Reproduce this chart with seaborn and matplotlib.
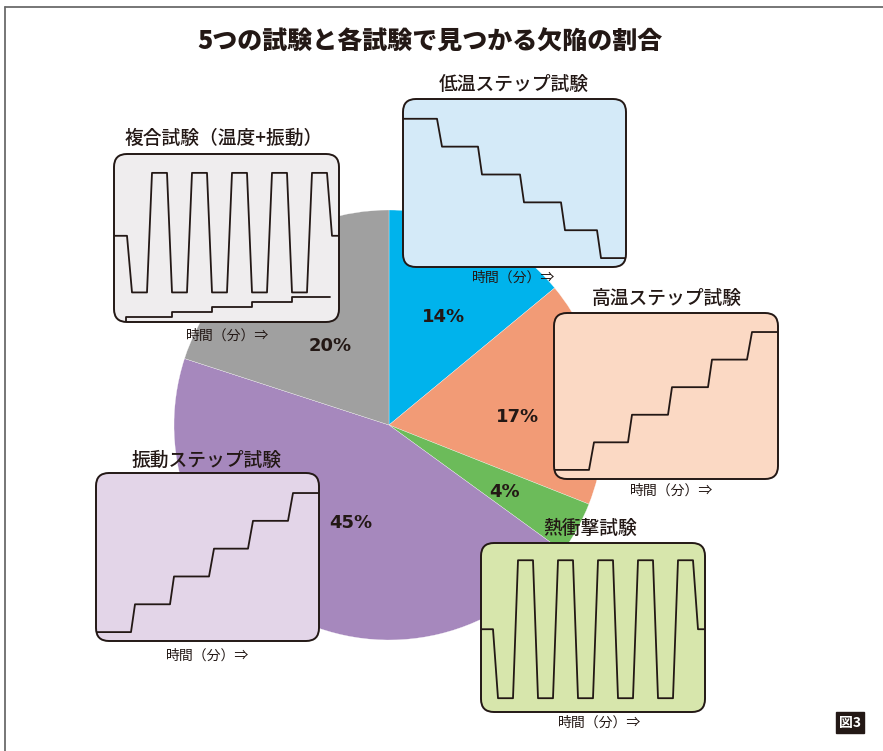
import matplotlib
matplotlib.use("Agg")
import matplotlib.pyplot as plt
from matplotlib.patches import FancyBboxPatch
from matplotlib.lines import Line2D
import seaborn as sns
import pandas as pd

sns.set_theme(style="white")
plt.rcParams['font.family'] = ['Noto Sans CJK JP', 'DejaVu Sans']

W, H = 883, 751
INK = "#231815"

# ---------------- data ----------------
title = "5つの試験と各試験で見つかる欠陥の割合"
tests = ["低温ステップ試験", "高温ステップ試験", "熱衝撃試験", "振動ステップ試験", "複合試験（温度+振動）"]
shares = [14, 17, 4, 45, 20]
wedge_colors = ["#00B3EC", "#F29B76", "#6CBB5A", "#A688BD", "#A0A0A0"]
box_colors = ["#D4EAF8", "#FBD9C4", "#D7E6AC", "#E3D5E8", "#EFEDEE"]
time_label = "時間（分）⇒"

low_t = [0, 34, 39, 75, 79, 117, 121, 158, 162, 194, 198, 223]
low_v = [5, 5, 4, 4, 3, 3, 2, 2, 1, 1, 0, 0]

high_t = [0, 35, 40, 74, 78, 114, 118, 154, 158, 193, 198, 224]
high_v = [0, 0, 1, 1, 2, 2, 3, 3, 4, 4, 5, 5]

vib_t = [0, 35, 39, 74, 78, 113, 118, 152, 157, 192, 197, 223]
vib_v = [0, 0, 1, 1, 2, 2, 3, 3, 4, 4, 5, 5]

shock_t = [0, 12, 17, 32, 37, 52, 57, 72, 77, 92, 97, 112, 117, 132,
           137, 152, 157, 172, 177, 192, 197, 212, 217, 224]
shock_v = [0, 0, -1, -1, 1, 1, -1, -1, 1, 1, -1, -1, 1, 1,
           -1, -1, 1, 1, -1, -1, 1, 1, 0, 0]

comb_t = [0, 13, 18, 33, 38, 53, 58, 73, 78, 93, 98, 113, 118, 133,
          138, 153, 158, 173, 178, 193, 198, 213, 218, 225]
comb_temp = [0, 0, -0.9, -0.9, 1, 1, -0.9, -0.9, 1, 1, -0.9, -0.9, 1, 1,
             -0.9, -0.9, 1, 1, -0.9, -0.9, 1, 1, 0, 0]
comb_vib_t = [12, 12, 58, 58, 98, 98, 138, 138, 178, 178, 216]
comb_vib_v = [-1.37, -1.29, -1.29, -1.21, -1.21, -1.13, -1.13, -1.05, -1.05, -0.98, -0.98]

# ---------------- layout ----------------
fig = plt.figure(figsize=(W / 100, H / 100), dpi=100)
fig.patch.set_facecolor("white")
ax = fig.add_axes([0, 0, 1, 1])

wedges, _, autotexts = ax.pie(
    shares, colors=wedge_colors, startangle=90, counterclock=False,
    center=(389, H - 425), radius=215, autopct="%d%%",
    wedgeprops=dict(edgecolor="white", linewidth=0.2),
    textprops=dict(fontsize=13, fontweight="bold", color=INK, family="DejaVu Sans"))
pct_pos = [(443, 317), (518, 417), (505, 492), (351, 523), (330, 346)]
for t, (px, py) in zip(autotexts, pct_pos):
    t.set_position((px, H - py))
    t.set_zorder(7)

ax.set_xlim(0, W)
ax.set_ylim(0, H)
ax.set_aspect("auto")
ax.axis("off")

ax.text(430, H - 42, title, ha="center", va="center", fontsize=18,
        fontweight="heavy", color=INK)

# frame lines
fig.add_artist(Line2D([4.5 / W, 4.5 / W], [0, 1 - 6.5 / H], color="#6b6b6b", lw=1.3))
fig.add_artist(Line2D([4.5 / W, 1], [1 - 6.5 / H, 1 - 6.5 / H], color="#6b6b6b", lw=1.3))

# figure number tag
ax.text(850, H - 722.5, "図3", ha="center", va="center", fontsize=10,
        fontweight="bold", color="white",
        bbox=dict(boxstyle="square,pad=0.25", fc=INK, ec=INK))

boxes = {
    "低温ステップ試験": dict(rect=(403, 99, 626, 267), tpos=(514, 84), lpos=(514, 278),
                      ylim=(-0.32, 5.71), color=box_colors[0],
                      series=[(low_t, low_v)], xmax=223),
    "高温ステップ試験": dict(rect=(554, 313, 778, 479), tpos=(667, 298), lpos=(672, 491),
                      ylim=(-0.33, 5.69), color=box_colors[1],
                      series=[(high_t, high_v)], xmax=224),
    "熱衝撃試験": dict(rect=(481, 543, 705, 712), tpos=(590, 528), lpos=(600, 723),
                  ylim=(-1.2, 1.25), color=box_colors[2],
                  series=[(shock_t, shock_v)], xmax=224),
    "振動ステップ試験": dict(rect=(96, 473, 319, 641), tpos=(207, 460), lpos=(208, 656),
                      ylim=(-0.32, 5.72), color=box_colors[3],
                      series=[(vib_t, vib_v)], xmax=223),
    "複合試験（温度+振動）": dict(rect=(114, 154, 339, 322), tpos=(224, 138), lpos=(228, 336),
                         ylim=(-1.37, 1.30), color=box_colors[4],
                         series=[(comb_t, comb_temp), (comb_vib_t, comb_vib_v)], xmax=225),
}

for name in tests:
    b = boxes[name]
    x0, y0, x1, y1 = b["rect"]
    patch = FancyBboxPatch((x0, H - y1), x1 - x0, y1 - y0,
                           boxstyle="round,pad=0,rounding_size=13",
                           fc=b["color"], ec=INK, lw=1.4, zorder=5)
    ax.add_patch(patch)
    ax.text(b["tpos"][0], H - b["tpos"][1], name, ha="center", va="center",
            fontsize=13.5, fontweight="medium", color=INK, zorder=7)
    ax.text(b["lpos"][0], H - b["lpos"][1], time_label, ha="center", va="center",
            fontsize=10, color=INK, zorder=7)

    iax = fig.add_axes([x0 / W, 1 - y1 / H, (x1 - x0) / W, (y1 - y0) / H])
    iax.patch.set_alpha(0)
    for tt, vv in b["series"]:
        df = pd.DataFrame({"time": tt, "value": vv})
        sns.lineplot(data=df, x="time", y="value", sort=False, estimator=None,
                     color=INK, lw=1.3, ax=iax)
    iax.set_xlim(0, b["xmax"])
    iax.set_ylim(*b["ylim"])
    iax.axis("off")

fig.savefig("out.png", dpi=100)
